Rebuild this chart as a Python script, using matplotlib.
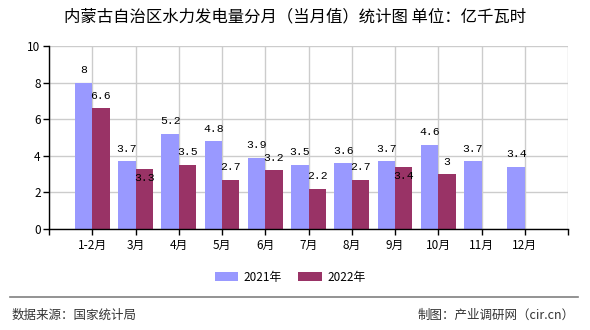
import matplotlib
matplotlib.use("Agg")
import matplotlib.pyplot as plt
import numpy as np

plt.rcParams['font.family'] = ['Noto Sans CJK SC', 'DejaVu Sans']

categories = ['1-2月', '3月', '4月', '5月', '6月', '7月', '8月', '9月', '10月', '11月', '12月']
values_2021 = [8, 3.7, 5.2, 4.8, 3.9, 3.5, 3.6, 3.7, 4.6, 3.7, 3.4]
values_2022 = [6.6, 3.3, 3.5, 2.7, 3.2, 2.2, 2.7, 3.4, 3, None, None]
series_names = ['2021年', '2022年']
title = '内蒙古自治区水力发电量分月（当月值）统计图 单位：亿千瓦时'
source = '数据来源：国家统计局'
maker = '制图：产业调研网（cir.cn）'

c1 = '#9999FF'
c2 = '#993366'

W, H = 590, 330
fig = plt.figure(figsize=(W / 100, H / 100), dpi=100)
ax = fig.add_axes([49 / W, 1 - 229 / H, (568 - 49) / W, (229 - 46) / H])

x = np.arange(len(categories))
bw = 0.4
v1 = np.array(values_2021, dtype=float)
v2 = np.array([np.nan if v is None else v for v in values_2022], dtype=float)

ax.bar(x - bw / 2, v1, bw, color=c1, label=series_names[0], zorder=3)
mask = ~np.isnan(v2)
ax.bar(x[mask] + bw / 2, v2[mask], bw, color=c2, label=series_names[1], zorder=3)

ax.set_xlim(-1, len(categories))
ax.set_ylim(0, 10)
ax.set_yticks(np.arange(0, 11, 2))
ax.set_xticks(np.arange(-1, len(categories) + 1))
ax.set_xticklabels([''] + categories + [''])
ax.grid(True, color='#cccccc', linewidth=1, zorder=0)
ax.set_axisbelow(True)

for s in ['top', 'right']:
    ax.spines[s].set_visible(False)
for s in ['left', 'bottom']:
    ax.spines[s].set_color('black')
    ax.spines[s].set_linewidth(1)
    ax.spines[s].set_zorder(4)

ax.tick_params(axis='both', length=4, width=1, color='black', labelsize=8.5, labelcolor='black', pad=2)
ax.tick_params(axis='x', pad=3)

lab_font = dict(family=['Liberation Mono', 'DejaVu Sans Mono'], fontsize=8.2, color='black')

def fmt(v):
    return f'{v:g}'

for i, v in enumerate(v1):
    ax.annotate(fmt(v), (x[i] - bw / 2, v), xytext=(0, 9), textcoords='offset points',
                ha='center', va='center', zorder=5, **lab_font)
for i, v in enumerate(v2):
    if np.isnan(v):
        continue
    off = 9
    if abs(v1[i] - v) < 0.5:
        off = -6.5
    ax.annotate(fmt(v), (x[i] + bw / 2, v), xytext=(0, off), textcoords='offset points',
                ha='center', va='center', zorder=5, **lab_font)

fig.text(295 / W, 1 - 17 / H, title, ha='center', va='center', fontsize=11.8, color='black')

fig.legend(loc='center', bbox_to_anchor=(290 / W, 1 - 277 / H), ncol=2, frameon=False,
           fontsize=8.5, handlelength=2.0, handleheight=0.8, handletextpad=0.45,
           columnspacing=1.4)

fig.add_artist(plt.Line2D([10 / W, 578 / W], [1 - 297 / H, 1 - 297 / H],
                          transform=fig.transFigure, color='#808080', linewidth=1.2))
fig.text(12 / W, 1 - 315 / H, source, ha='left', va='center', fontsize=9, color='#333333')
fig.text(575 / W, 1 - 315 / H, maker, ha='right', va='center', fontsize=9, color='#333333')

fig.savefig('out.png', dpi=100)
